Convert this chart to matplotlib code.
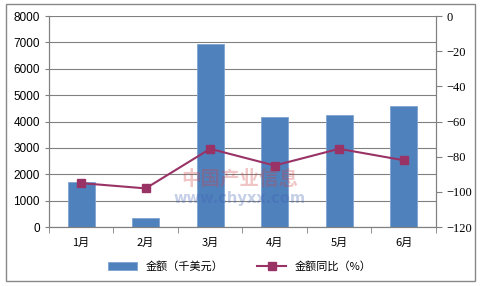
import matplotlib.pyplot as plt
from matplotlib.patches import Rectangle

plt.rcParams['font.family'] = ['Noto Sans CJK SC', 'DejaVu Sans']

months = ['1月', '2月', '3月', '4月', '5月', '6月']
amount = [1720, 350, 6950, 4170, 4250, 4600]
yoy = [-95, -98, -75.5, -85, -75.5, -82]

fig = plt.figure(figsize=(4.8, 2.86), dpi=100)
fig.patches.append(Rectangle((0.012, 0.017), 0.978, 0.968, transform=fig.transFigure,
                             fill=False, edgecolor='#888888', lw=1))
ax = fig.add_axes([0.102, 0.206, 0.806, 0.738])
x = list(range(len(months)))

ax.bar(x, amount, width=0.42, color='#4F81BD', edgecolor='#7FA3D3', lw=0.6,
       label='金额（千美元）', zorder=2)
ax.set_ylim(0, 8000)
ax.set_yticks(range(0, 8001, 1000))
ax.set_yticklabels([str(v) for v in range(0, 8001, 1000)],
                   family='Liberation Sans', fontsize=8.5)
ax.set_xlim(-0.5, 5.5)
ax.set_xticks(x)
ax.set_xticklabels(months, fontsize=8)
ax.set_xticks([i + 0.5 for i in range(-1, 6)], minor=True)
ax.tick_params(axis='x', which='major', length=0, pad=8)
ax.tick_params(axis='x', which='minor', length=4, color='#808080')
ax.tick_params(axis='y', length=3, color='#808080')
ax.grid(axis='y', color='#808080', lw=0.8, zorder=0)
ax.spines['top'].set_visible(False)
for s in ['left', 'bottom', 'right']:
    ax.spines[s].set_color('#808080')

ax2 = ax.twinx()
ax2.plot(x, yoy, color='#993366', lw=1.5, marker='s', markersize=6,
         label='金额同比（%）', zorder=3)
ax2.set_ylim(-120, 0)
ax2.set_yticks(range(-120, 1, 20))
ax2.set_yticklabels([str(v).replace('-', '−') for v in range(-120, 1, 20)],
                    family='Liberation Serif', fontsize=9)
ax2.tick_params(axis='y', length=4, color='#808080')
ax2.spines['top'].set_visible(False)
for s in ['left', 'bottom', 'right']:
    ax2.spines[s].set_color('#808080')

# watermark
fig.text(0.5, 0.355, '中国产业信息', color='#D04040', alpha=0.3, fontsize=14,
         ha='center', fontweight='bold')
fig.text(0.5, 0.29, 'www.chyxx.com', color='#4060B0', alpha=0.3, fontsize=10.5,
         ha='center', fontweight='bold', family='DejaVu Sans')

h1, l1 = ax.get_legend_handles_labels()
h2, l2 = ax2.get_legend_handles_labels()
fig.legend(h1 + h2, l1 + l2, loc='center', bbox_to_anchor=(0.5, 0.068), ncol=2,
           frameon=False, fontsize=8, handlelength=2.6, columnspacing=3.0)

fig.savefig('out.png', dpi=100)
